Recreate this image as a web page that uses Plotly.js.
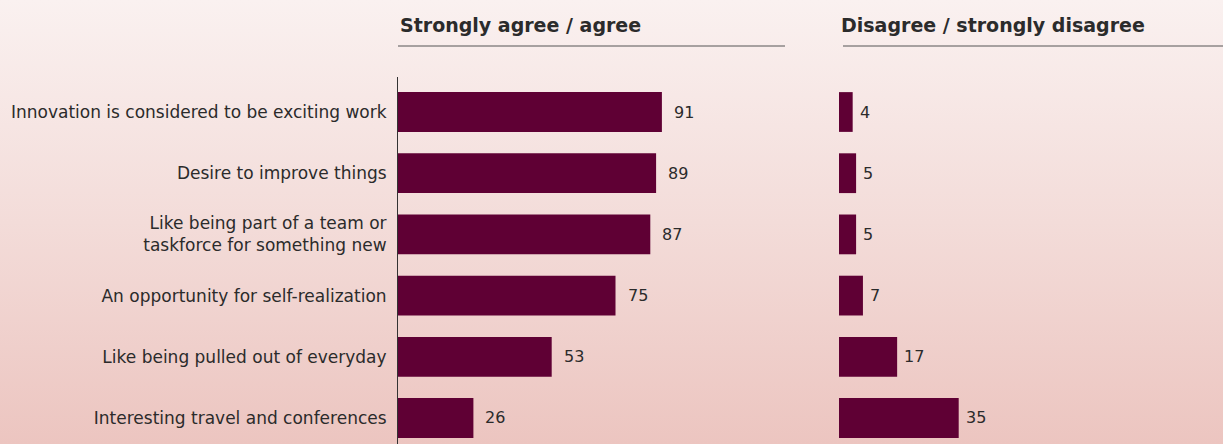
<!DOCTYPE html>
<html><head><meta charset="utf-8">
<script src="https://cdn.plot.ly/plotly-3.0.1.min.js"></script>
<style>
html,body{margin:0;padding:0;}
body{width:1223px;height:444px;background:linear-gradient(to bottom,#faf1f0 0%,#f3dcd9 50%,#ecc5c0 100%);}
#chart{width:1223px;height:444px;}
</style></head>
<body><div id="chart"></div>
<script>
const categories = [
  "Innovation is considered to be exciting work",
  "Desire to improve things",
  "Like being part of a team or<br>taskforce for something new",
  "An opportunity for self-realization",
  "Like being pulled out of everyday",
  "Interesting travel and conferences"
];
const agree = [91, 89, 87, 75, 53, 26];
const disagree = [4, 5, 5, 7, 17, 35];
const panelTitles = ["Strongly agree / agree", "Disagree / strongly disagree"];

const barColor = "#5f0034";
const textColor = "#2b2b2b";
const fontFamily = "'DejaVu Sans', 'Open Sans', sans-serif";

const traces = [
  {type:"bar", orientation:"h", y:categories, x:agree, xaxis:"x", yaxis:"y",
   marker:{color:barColor}, width:0.65, hoverinfo:"none"},
  {type:"bar", orientation:"h", y:categories, x:disagree, xaxis:"x2", yaxis:"y2",
   marker:{color:barColor}, width:0.65, hoverinfo:"none"}
];

const annotations = [];
agree.forEach((v,i)=>annotations.push({x:v, y:categories[i], xref:"x", yref:"y", text:String(v),
  showarrow:false, xanchor:"left", xshift:10, font:{size:16,color:textColor,family:fontFamily}}));
disagree.forEach((v,i)=>annotations.push({x:v, y:categories[i], xref:"x2", yref:"y2", text:String(v),
  showarrow:false, xanchor:"left", xshift:5, font:{size:16,color:textColor,family:fontFamily}}));

const W = 1223;
const d1 = [398/W, 785/W];
const d2 = [839/W, 1];
const plotH = 444-77;
const titleY = 1 + (77-25)/plotH;
annotations.push({xref:"paper", yref:"paper", x:d1[0], y:titleY, xanchor:"left", yanchor:"middle",
  text:"<b>"+panelTitles[0]+"</b>", showarrow:false, font:{size:19,color:textColor,family:fontFamily}});
annotations.push({xref:"paper", yref:"paper", x:d2[0], y:titleY, xanchor:"left", yanchor:"middle",
  text:"<b>"+panelTitles[1]+"</b>", showarrow:false, font:{size:19,color:textColor,family:fontFamily}});

const lineY = 1 + (77-46)/plotH;
const layout = {
  width:1223, height:444,
  margin:{l:0, r:0, t:77, b:0},
  paper_bgcolor:"rgba(0,0,0,0)", plot_bgcolor:"rgba(0,0,0,0)",
  showlegend:false,
  font:{family:fontFamily, color:textColor, size:16},
  xaxis:{domain:d1, range:[0, 387/2.9], showgrid:false, zeroline:false, showticklabels:false, ticks:"", fixedrange:true},
  xaxis2:{domain:d2, range:[0, 384/3.42], showgrid:false, zeroline:false, showticklabels:false, ticks:"", fixedrange:true},
  yaxis:{range:[5.425, -0.572], showgrid:false, zeroline:false, showline:true, linecolor:"#333", linewidth:1,
    ticks:"", ticklabelstandoff:7, tickfont:{size:17,color:textColor,family:fontFamily}, anchor:"x"},
  yaxis2:{range:[5.425, -0.572], showgrid:false, zeroline:false, showline:false, showticklabels:false, ticks:"", anchor:"x2"},
  annotations:annotations,
  shapes:[
    {type:"line", xref:"paper", yref:"paper", x0:d1[0], x1:d1[1], y0:lineY, y1:lineY, line:{color:"#555", width:1}},
    {type:"line", xref:"paper", yref:"paper", x0:843/W, x1:1, y0:lineY, y1:lineY, line:{color:"#555", width:1}}
  ]
};

Plotly.newPlot("chart", traces, layout, {displayModeBar:false, staticPlot:true});
</script></body></html>
